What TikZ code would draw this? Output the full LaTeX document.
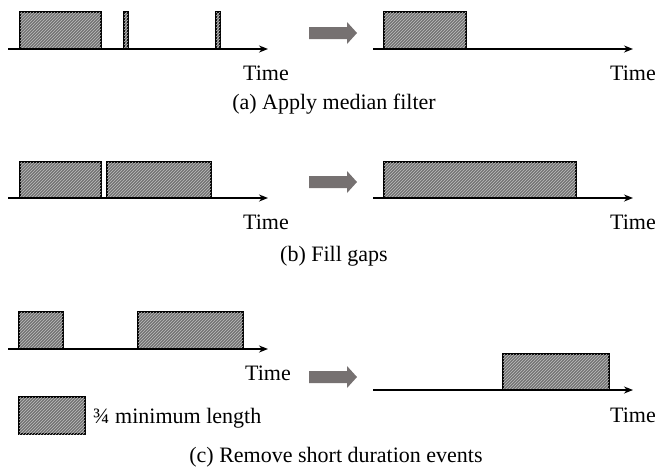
\documentclass[tikz,border=0pt]{standalone}
\usepackage{fontspec}
\setmainfont{Liberation Serif}
\usetikzlibrary{patterns,arrows.meta}

\definecolor{arrowgray}{RGB}{118,113,113}

\tikzset{
  event/.style={draw=black, line width=1.2pt, fill=black!55,
    postaction={pattern=north east lines, pattern color=black!25}},
  axis/.style={-{Stealth[length=9pt,width=7pt]}, line width=1.6pt},
  timelabel/.style={font=\fontsize{22}{24}\selectfont, anchor=base west, inner sep=0pt},
  caption/.style={font=\fontsize{22}{24}\selectfont},
}

% fat grey arrow, #1 = left end, #2 = middle height
\newcommand\stepArrow[2]{%
  \fill[arrowgray] (#1,#2-6) -- ++(38,0) -- ++(0,-5) -- ++(10,11)
    -- ++(-10,11) -- ++(0,-5) -- ++(-38,0) -- cycle;}

\begin{document}
\begin{tikzpicture}[x=1pt, y=-1pt]
  \useasboundingbox (0,0) rectangle (668,475);

  % === (a) median filter ===
  \coordinate (aL0) at (8,49);   \coordinate (aL1) at (268,49);
  \coordinate (aR0) at (373,49); \coordinate (aR1) at (633,49);
  \draw[event] (20,12) rectangle (101,49);
  \draw[event] (124,12) rectangle (128,49);
  \draw[event] (216,12) rectangle (220,49);
  \draw[axis] (aL0) -- (aL1);
  \node[timelabel] (aTimeL) at (243,80) {Time};
  \stepArrow{309}{33}
  \draw[event] (384,12) rectangle (466,49);
  \draw[axis] (aR0) -- (aR1);
  \node[timelabel] (aTimeR) at (610,80) {Time};
  \node[caption] (capA) at (334,104) {(a) Apply median filter};

  % === (b) fill gaps ===
  \coordinate (bL0) at (8,198);   \coordinate (bL1) at (268,198);
  \coordinate (bR0) at (373,198); \coordinate (bR1) at (633,198);
  \draw[event] (20,162) rectangle (101,198);
  \draw[event] (107,162) rectangle (211,198);
  \draw[axis] (bL0) -- (bL1);
  \node[timelabel] (bTimeL) at (243,229) {Time};
  \stepArrow{309}{182}
  \draw[event] (384,162) rectangle (576,198);
  \draw[axis] (bR0) -- (bR1);
  \node[timelabel] (bTimeR) at (610,229) {Time};
  \node[caption] (capB) at (334,256) {(b) Fill gaps};

  % === (c) remove short events ===
  \coordinate (cL0) at (8,349);   \coordinate (cL1) at (268,349);
  \coordinate (cR0) at (373,390); \coordinate (cR1) at (633,390);
  \draw[event] (19,312) rectangle (63,349);
  \draw[event] (138,312) rectangle (243,349);
  \draw[axis] (cL0) -- (cL1);
  \node[timelabel] (cTimeL) at (245,380) {Time};
  \stepArrow{309}{377}
  \draw[event] (503,354) rectangle (609,390);
  \draw[axis] (cR0) -- (cR1);
  \node[timelabel] (cTimeR) at (610,422) {Time};

  % legend
  \draw[event] (19,397) rectangle (85,434);
  \node[timelabel] (legend) at (93,423) {¾ minimum length};
  \node[caption] (capC) at (336,457) {(c) Remove short duration events};
\end{tikzpicture}
\end{document}
